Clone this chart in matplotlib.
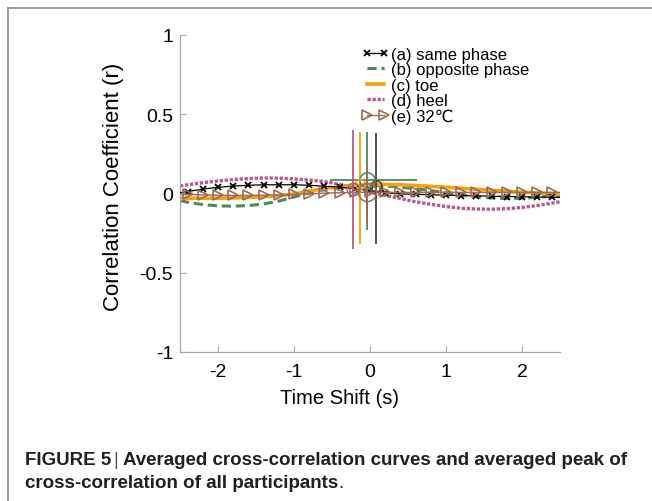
import matplotlib
matplotlib.use("Agg")
import matplotlib.pyplot as plt
from matplotlib.lines import Line2D

plt.rcParams['font.family'] = ['Liberation Sans', 'DejaVu Sans']
plt.rcParams['axes.unicode_minus'] = False

# ---------------- data ----------------
lag = [-2.5, -2.4, -2.2, -2.0, -1.8, -1.6, -1.4, -1.2, -1.0, -0.8, -0.6, -0.4, -0.2, 0.0,
       0.2, 0.4, 0.6, 0.8, 1.0, 1.2, 1.4, 1.6, 1.8, 2.0, 2.2, 2.4, 2.5]

same_phase = [0.005, 0.012, 0.028, 0.039, 0.047, 0.052, 0.055, 0.055, 0.055, 0.052, 0.046, 0.04, 0.03, 0.02,
              0.005, -0.002, -0.005, -0.008, -0.01, -0.013, -0.015, -0.017, -0.019, -0.021, -0.022, -0.024, -0.025]
opposite_phase = [-0.045, -0.055, -0.07, -0.078, -0.08, -0.076, -0.066, -0.048, -0.022, 0.004, 0.025, 0.04, 0.05, 0.052,
                  0.048, 0.04, 0.03, 0.018, 0.005, -0.008, -0.02, -0.028, -0.032, -0.03, -0.024, -0.016, -0.012]
toe = [-0.03, -0.03, -0.03, -0.03, -0.028, -0.025, -0.02, -0.014, -0.003, 0.015, 0.033, 0.04, 0.05, 0.057,
       0.058, 0.055, 0.05, 0.045, 0.04, 0.033, 0.027, 0.02, 0.014, 0.008, 0.003, -0.001, -0.003]
heel = [0.048, 0.055, 0.068, 0.079, 0.088, 0.094, 0.098, 0.097, 0.092, 0.085, 0.075, 0.058, 0.035, 0.008,
        -0.012, -0.032, -0.052, -0.068, -0.082, -0.093, -0.098, -0.099, -0.096, -0.088, -0.076, -0.06, -0.052]
temp32 = [-0.005, -0.006, -0.009, -0.011, -0.012, -0.012, -0.011, -0.009, -0.006, -0.002, 0.002, 0.005, 0.007, 0.008,
          0.007, 0.007, 0.007, 0.007, 0.007, 0.007, 0.007, 0.007, 0.007, 0.007, 0.007, 0.007, 0.007]

labels = ['(a) same phase', '(b) opposite phase', '(c) toe', '(d) heel', '(e) 32\u2103']

# averaged peak (lag, r) with error ranges; order a, b, c, d, e
peak_lag = [0.085, -0.04, -0.13, -0.22, -0.035]
peak_r = [0.05, 0.085, 0.06, 0.03, 0.008]
r_low = [-0.32, -0.23, -0.32, -0.35, -0.18]
r_high = [0.38, 0.39, 0.39, 0.40, 0.175]
lag_low = [0.085, -0.52, -0.13, -0.22, -0.035]
lag_high = [0.085, 0.62, -0.13, -0.22, -0.035]

# ---------------- styles ----------------
c_a = '#000000'
c_a_err = '#444444'
c_b = '#4b8a5e'
c_c = '#f5a30a'
c_d = '#b65a8f'
c_e = '#9c6a55'

fig = plt.figure(figsize=(6.52, 5.02), dpi=100)
ax = fig.add_axes([180 / 652, 1 - 353 / 502, 380 / 652, 317 / 502])

mk = slice(1, -1)
ax.plot(lag, heel, color=c_d, lw=2.4, ls=(0, (1.0, 0.5)), label=labels[3], zorder=2)
ax.plot(lag, opposite_phase, color=c_b, lw=2.2, ls=(0, (3, 1.6)), label=labels[1], zorder=2)
ax.plot(lag, toe, color=c_c, lw=2.6, label=labels[2], zorder=2)
ax.plot(lag, same_phase, color=c_a, lw=0.9, marker='x', ms=5, mew=1.3, markevery=mk,
        label=labels[0], zorder=3)
ax.plot(lag, temp32, color=c_e, lw=1.0, marker='>', ms=6.5, mfc='none', mec=c_e, mew=1.2,
        markevery=mk, label=labels[4], zorder=3)

err_cols = [c_a_err, c_b, c_c, c_d, c_e]
circ_ms = [8, 11, 7, 9, 13]
for i in range(5):
    ax.errorbar([peak_lag[i]], [peak_r[i]],
                yerr=[[peak_r[i] - r_low[i]], [r_high[i] - peak_r[i]]],
                xerr=[[peak_lag[i] - lag_low[i]], [lag_high[i] - peak_lag[i]]],
                fmt='o', ms=circ_ms[i], mfc='none', mec=err_cols[i], mew=1.1,
                ecolor=err_cols[i], elinewidth=1.3, capsize=0, zorder=4)

ax.set_xlim(-2.5, 2.5)
ax.set_ylim(-1, 1)
ax.set_xticks([-2, -1, 0, 1, 2])
ax.set_xticklabels(['-2', '-1', '0', '1', '2'])
ax.set_yticks([-1, -0.5, 0, 0.5, 1])
ax.set_yticklabels(['-1', '-0.5', '0', '0.5', '1'])
for s in ['top', 'right']:
    ax.spines[s].set_visible(False)
for s in ['left', 'bottom']:
    ax.spines[s].set_color('#a8a8a8')
    ax.spines[s].set_linewidth(0.9)
ax.tick_params(direction='in', length=4, color='#a8a8a8', labelsize=14, labelcolor='black')
ax.tick_params(axis='x', pad=8)
ax.tick_params(axis='y', pad=5)

ax.set_xlabel('Time Shift (s)', fontsize=14.5)
ax.xaxis.set_label_coords((339 - 180) / 380, (353 - 399) / 317)
ax.xaxis.label.set_va('center')
ax.set_ylabel('Correlation Coefficient (r)', fontsize=16)
ax.yaxis.set_label_coords((113 - 180) / 380, 0.525)
ax.yaxis.label.set_va('center')

handles, labs = ax.get_legend_handles_labels()
order = [labs.index(l) for l in labels]
leg = ax.legend([handles[k] for k in order], [labs[k] for k in order],
                loc='upper left', bbox_to_anchor=((362 - 180) / 380, (353 - 48) / 317),
                frameon=False, fontsize=12, labelspacing=0.02, handlelength=1.6,
                handletextpad=0.15, borderaxespad=0, borderpad=0, numpoints=2)

# ---------------- outer frame ----------------
fig.add_artist(Line2D([8 / 652, 1.0], [1 - 9 / 502, 1 - 9 / 502], color='#8a8a8a', lw=1.2))
fig.add_artist(Line2D([8 / 652, 8 / 652], [0, 1 - 9 / 502], color='#8a8a8a', lw=1.2))

# ---------------- caption ----------------
fig.canvas.draw()
r = fig.canvas.get_renderer()
cap_col = '#231f20'
fs = 13.5
y1 = 1 - 465 / 502
y2 = 1 - 488 / 502
fig.text(25 / 652, y1, 'FIGURE 5', fontsize=fs, fontweight='bold', color=cap_col, va='baseline')
fig.text(116 / 652, y1, '|', fontsize=fs, color='#555555', va='baseline', ha='center')
fig.text(123 / 652, y1, 'Averaged cross-correlation curves and averaged peak of', fontsize=fs,
         fontweight='bold', color=cap_col, va='baseline')
t4 = fig.text(25 / 652, y2, 'cross-correlation of all participants', fontsize=fs, fontweight='bold',
              color=cap_col, va='baseline')
bb = t4.get_window_extent(r)
fig.text(bb.x1 / fig.bbox.width, y2, '.', fontsize=fs, color=cap_col, va='baseline')

fig.savefig('out.png', dpi=100)
